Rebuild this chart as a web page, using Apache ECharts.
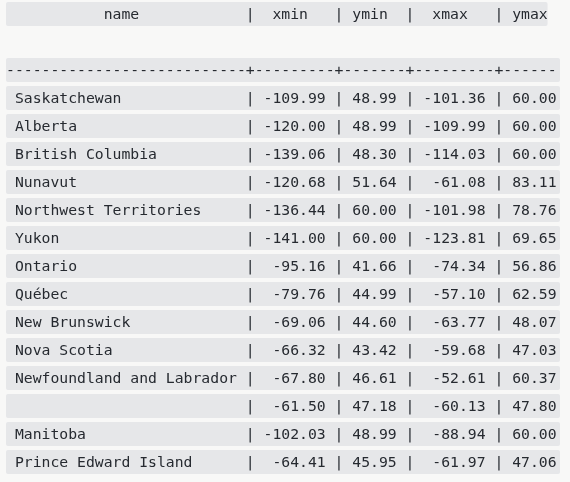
<!DOCTYPE html>
<html>
<head>
<meta charset="utf-8">
<script src="https://cdn.jsdelivr.net/npm/echarts@6/dist/echarts.min.js"></script>
<style>
  html, body { margin: 0; padding: 0; background: #f8f8f7; }
  #table { width: 570px; height: 482px; }
</style>
</head>
<body>
<div id="table"></div>
<script>
// table contents
const headers = ['name', 'xmin', 'ymin', 'xmax', 'ymax']
const names = ['Saskatchewan', 'Alberta', 'British Columbia', 'Nunavut', 'Northwest Territories',
  'Yukon', 'Ontario', 'Québec', 'New Brunswick', 'Nova Scotia', 'Newfoundland and Labrador',
  '', 'Manitoba', 'Prince Edward Island']
const xmin = [-109.99, -120.00, -139.06, -120.68, -136.44, -141.00, -95.16, -79.76, -69.06, -66.32, -67.80, -61.50, -102.03, -64.41]
const ymin = [48.99, 48.99, 48.30, 51.64, 60.00, 60.00, 41.66, 44.99, 44.60, 43.42, 46.61, 47.18, 48.99, 45.95]
const xmax = [-101.36, -109.99, -114.03, -61.08, -101.98, -123.81, -74.34, -57.10, -63.77, -59.68, -52.61, -60.13, -88.94, -61.97]
const ymax = [60.00, 60.00, 60.00, 83.11, 78.76, 69.65, 56.86, 62.59, 48.07, 47.03, 60.37, 47.80, 60.00, 47.06]

// column widths in characters (psql style)
const widths = [25, 7, 5, 7, 5]

function center(s, w) {
  let left = Math.floor((w - s.length) / 2)
  return ' '.repeat(left) + s + ' '.repeat(w - s.length - left)
}

let lines = []
lines.push((headers.map((h, i) => ' ' + center(h, widths[i]) + ' ').join('|')).replace(/\s+$/, ''))
lines.push('')
lines.push(widths.map(w => '-'.repeat(w + 2)).join('+'))
names.forEach((n, i) => {
  let cells = [
    n.padEnd(widths[0]),
    xmin[i].toFixed(2).padStart(widths[1]),
    ymin[i].toFixed(2).padStart(widths[2]),
    xmax[i].toFixed(2).padStart(widths[3]),
    ymax[i].toFixed(2).padStart(widths[4])
  ]
  lines.push(cells.map(c => ' ' + c + ' ').join('|'))
})

let myChart = echarts.init(document.getElementById('table'))
myChart.setOption({
  backgroundColor: '#f8f8f7',
  animation: false,
  grid: { left: 6, right: 10, top: 0, height: lines.length * 28 },
  xAxis: { type: 'value', min: 0, max: 62.4, show: false },
  yAxis: {
    type: 'category',
    inverse: true,
    data: lines.map((l, i) => i),
    show: false
  },
  series: [
    {
      type: 'custom',
      clip: true,
      data: lines.map((l, i) => [0, i, l.length]),
      renderItem: function (params, api) {
        let text = lines[api.value(1)]
        if (!text.length) return null
        let cs = params.coordSys
        let p = api.coord([0, api.value(1)])
        let charW = api.size([1, 0])[0]
        let bandH = api.size([0, 1])[1] - 4
        let width = Math.min(api.value(2) * charW, cs.x + cs.width - p[0])
        return {
          type: 'group',
          children: [
            {
              type: 'rect',
              shape: { x: p[0], y: p[1] - bandH / 2, width: width, height: bandH, r: 2 },
              style: { fill: '#e6e7e9' }
            },
            {
              type: 'text',
              x: p[0],
              y: p[1] + 1.5,
              style: {
                text: text,
                fill: '#262a30',
                font: (charW / 0.602).toFixed(2) + 'px "DejaVu Sans Mono", monospace',
                verticalAlign: 'middle',
                align: 'left',
                width: width + charW * 0.6,
                overflow: 'truncate',
                ellipsis: ''
              }
            }
          ]
        }
      }
    }
  ]
})
</script>
</body>
</html>
